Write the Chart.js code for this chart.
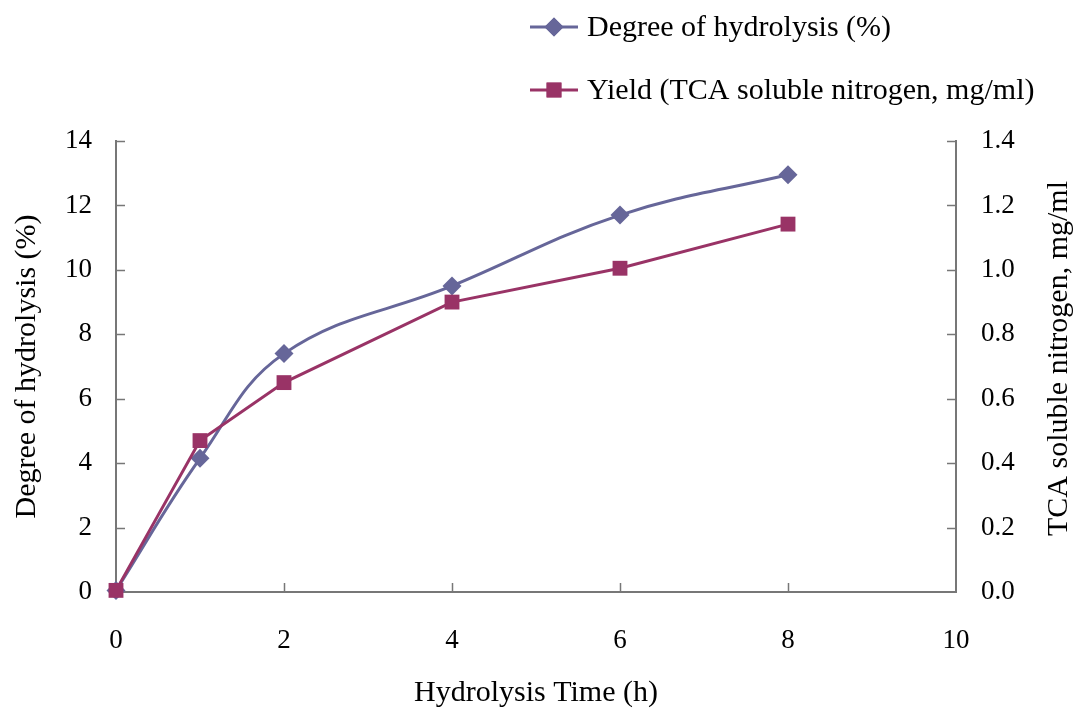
<!DOCTYPE html>
<html>
<head>
<meta charset="utf-8">
<script src="https://cdn.jsdelivr.net/npm/chart.js@4.4.1/dist/chart.umd.min.js"></script>
<style>
  html, body { margin: 0; padding: 0; background: #ffffff; }
  #wrap { width: 1078px; height: 718px; }
</style>
</head>
<body>
<div id="wrap"><canvas id="c" width="1078" height="718"></canvas></div>
<script>
// Hydrolysis time (h)
const hours = [0, 1, 2, 4, 6, 8];
// Degree of hydrolysis (%)
const degreeOfHydrolysis = [0.05, 4.15, 7.4, 9.5, 11.7, 12.95];
// TCA soluble nitrogen (mg/ml)
const tcaNitrogen = [0.005, 0.47, 0.65, 0.90, 1.005, 1.142];

const xTicks = [0, 2, 4, 6, 8, 10];
const leftTicks = [0, 2, 4, 6, 8, 10, 12, 14];
const rightTicks = [0.0, 0.2, 0.4, 0.6, 0.8, 1.0, 1.2, 1.4];

const rightTitle = 'TCA soluble nitrogen, mg/ml';

const FONT = "'Liberation Serif', 'Times New Roman', serif";
const TICK_SIZE = 27;
const TITLE_SIZE = 30;
const AXIS_COLOR = '#777777';
const DH_COLOR = '#666699';
const YIELD_COLOR = '#993366';

const toPoints = (xs, ys) => xs.map((x, i) => ({ x, y: ys[i] }));

// Inward tick marks on all three axes
const inwardTicks = {
  id: 'inwardTicks',
  afterDatasetsDraw(chart) {
    const { ctx, scales } = chart;
    const x = scales.x, yl = scales.y, yr = scales.y2;
    ctx.save();
    ctx.strokeStyle = AXIS_COLOR;
    ctx.lineWidth = 1.5;
    ctx.beginPath();
    xTicks.slice(1, -1).forEach(v => {
      const px = Math.round(x.getPixelForValue(v)) + 0.5;
      ctx.moveTo(px, yl.bottom);
      ctx.lineTo(px, yl.bottom - 9);
    });
    leftTicks.slice(1).forEach(v => {
      const py = Math.round(yl.getPixelForValue(v)) + 0.5;
      ctx.moveTo(x.left, py);
      ctx.lineTo(x.left + 9, py);
    });
    rightTicks.slice(1).forEach(v => {
      const py = Math.round(yr.getPixelForValue(v)) + 0.5;
      ctx.moveTo(x.right, py);
      ctx.lineTo(x.right - 9, py);
    });
    ctx.stroke();
    ctx.restore();
  }
};

// Right axis title, reading bottom to top like the left one
const rightAxisTitle = {
  id: 'rightAxisTitle',
  afterDraw(chart) {
    const { ctx } = chart;
    const yr = chart.scales.y2;
    ctx.save();
    ctx.translate(1059, (yr.top + yr.bottom) / 2 - 8);
    ctx.rotate(-Math.PI / 2);
    ctx.font = TITLE_SIZE + 'px ' + FONT;
    ctx.fillStyle = '#000000';
    ctx.textAlign = 'center';
    ctx.textBaseline = 'middle';
    ctx.fillText(rightTitle, 0, 0);
    ctx.restore();
  }
};

// Stacked legend in the upper right
const stackedLegend = {
  id: 'stackedLegend',
  afterDraw(chart) {
    const { ctx } = chart;
    const rows = [
      { ds: chart.data.datasets[0], y: 27 },
      { ds: chart.data.datasets[1], y: 90 }
    ];
    ctx.save();
    ctx.font = TITLE_SIZE + 'px ' + FONT;
    ctx.textBaseline = 'middle';
    ctx.textAlign = 'left';
    rows.forEach(r => {
      const ds = r.ds;
      ctx.strokeStyle = ds.borderColor;
      ctx.lineWidth = 3;
      ctx.beginPath();
      ctx.moveTo(530, r.y);
      ctx.lineTo(578, r.y);
      ctx.stroke();
      ctx.fillStyle = ds.pointBackgroundColor;
      Chart.helpers.drawPoint(ctx, {
        pointStyle: ds.pointStyle,
        radius: ds.pointRadius,
        borderWidth: 0
      }, 554, r.y);
      ctx.fill();
      ctx.fillStyle = '#000000';
      ctx.fillText(ds.label, 587, r.y + 1);
    });
    ctx.restore();
  }
};

new Chart(document.getElementById('c'), {
  type: 'line',
  data: {
    datasets: [
      {
        label: 'Degree of hydrolysis (%)',
        data: toPoints(hours, degreeOfHydrolysis),
        yAxisID: 'y',
        borderColor: DH_COLOR,
        backgroundColor: DH_COLOR,
        pointBackgroundColor: DH_COLOR,
        pointBorderColor: DH_COLOR,
        pointStyle: 'rectRot',
        pointRadius: 9.5,
        pointBorderWidth: 0,
        borderWidth: 3,
        tension: 0.4,
        order: 2
      },
      {
        label: 'Yield (TCA soluble nitrogen, mg/ml)',
        data: toPoints(hours, tcaNitrogen),
        yAxisID: 'y2',
        borderColor: YIELD_COLOR,
        backgroundColor: YIELD_COLOR,
        pointBackgroundColor: YIELD_COLOR,
        pointBorderColor: YIELD_COLOR,
        pointStyle: 'rect',
        pointRadius: 10.5,
        pointBorderWidth: 0,
        borderWidth: 3,
        tension: 0,
        order: 1
      }
    ]
  },
  options: {
    responsive: false,
    animation: false,
    clip: false,
    layout: { padding: { top: 141, left: 0, right: 0, bottom: 0 } },
    plugins: {
      legend: { display: false },
      tooltip: { enabled: false }
    },
    scales: {
      x: {
        type: 'linear',
        min: 0,
        max: 10,
        afterBuildTicks: s => { s.ticks = xTicks.map(v => ({ value: v })); },
        afterFit: s => { s.height = 126; },
        grid: { display: false, drawTicks: false },
        border: { display: true, color: AXIS_COLOR, width: 2 },
        ticks: {
          color: '#000000',
          font: { family: FONT, size: TICK_SIZE },
          padding: 33,
          maxRotation: 0
        },
        title: {
          display: true,
          text: 'Hydrolysis Time (h)',
          color: '#000000',
          font: { family: FONT, size: TITLE_SIZE },
          padding: { top: 4, bottom: 7 }
        }
      },
      y: {
        type: 'linear',
        position: 'left',
        min: 0,
        max: 14,
        afterBuildTicks: s => { s.ticks = leftTicks.map(v => ({ value: v })); },
        afterFit: s => { s.width = 116; },
        grid: { display: false, drawTicks: false },
        border: { display: true, color: AXIS_COLOR, width: 2 },
        ticks: {
          color: '#000000',
          font: { family: FONT, size: TICK_SIZE },
          padding: 24
        },
        title: {
          display: true,
          text: 'Degree of hydrolysis (%)',
          color: '#000000',
          font: { family: FONT, size: TITLE_SIZE },
          padding: { top: 9, bottom: 4 }
        }
      },
      y2: {
        type: 'linear',
        position: 'right',
        min: 0,
        max: 1.4,
        afterBuildTicks: s => { s.ticks = rightTicks.map(v => ({ value: v })); },
        afterFit: s => { s.width = 122; },
        grid: { display: false, drawTicks: false },
        border: { display: true, color: AXIS_COLOR, width: 2 },
        ticks: {
          color: '#000000',
          font: { family: FONT, size: TICK_SIZE },
          padding: 25,
          callback: v => v.toFixed(1)
        },
        title: { display: false }
      }
    }
  },
  plugins: [inwardTicks, rightAxisTitle, stackedLegend]
});
</script>
</body>
</html>
